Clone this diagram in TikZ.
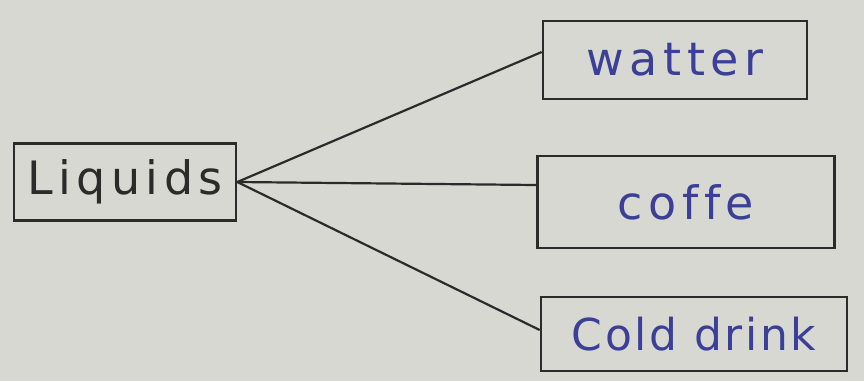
\documentclass[tikz,border=0pt]{standalone}
\usepackage{fontspec}
\setmainfont{DejaVu Sans}[Ligatures={NoCommon}]
\definecolor{paper}{HTML}{D8D8D2}
\definecolor{ink}{HTML}{2B2B2B}
\definecolor{blueink}{HTML}{3C3F98}
\begin{document}
\begin{tikzpicture}[x=1pt,y=-1pt,
  box/.style={draw=ink, line width=2.6pt, rectangle, inner sep=0pt, font=\fontsize{46}{50}\selectfont\addfontfeatures{LetterSpace=12}},
  conn/.style={draw=ink, line width=2.2pt}]
\fill[paper] (0,0) rectangle (864,381);
\useasboundingbox (0,0) rectangle (864,381);
\node[box, minimum width=222pt, minimum height=77pt, text=ink] (liq) at (125,182) {Liquids};
\node[box, minimum width=264pt, minimum height=78pt, text=blueink] (wat) at (675,60) {watter};
\node[box, minimum width=297pt, minimum height=92pt, text=blueink] (cof) at (686,202) {cof{}fe};
\node[box, minimum width=306pt, minimum height=74pt, text=blueink, font=\fontsize{44}{48}\selectfont\addfontfeatures{LetterSpace=6}] (cold) at (694,334) {Cold drink};
\draw[conn] (liq.east) -- ([yshift=8pt]wat.west);
\draw[conn] (liq.east) -- ([yshift=17pt]cof.west);
\draw[conn] (liq.east) -- ([yshift=4pt]cold.west);
\end{tikzpicture}
\end{document}
